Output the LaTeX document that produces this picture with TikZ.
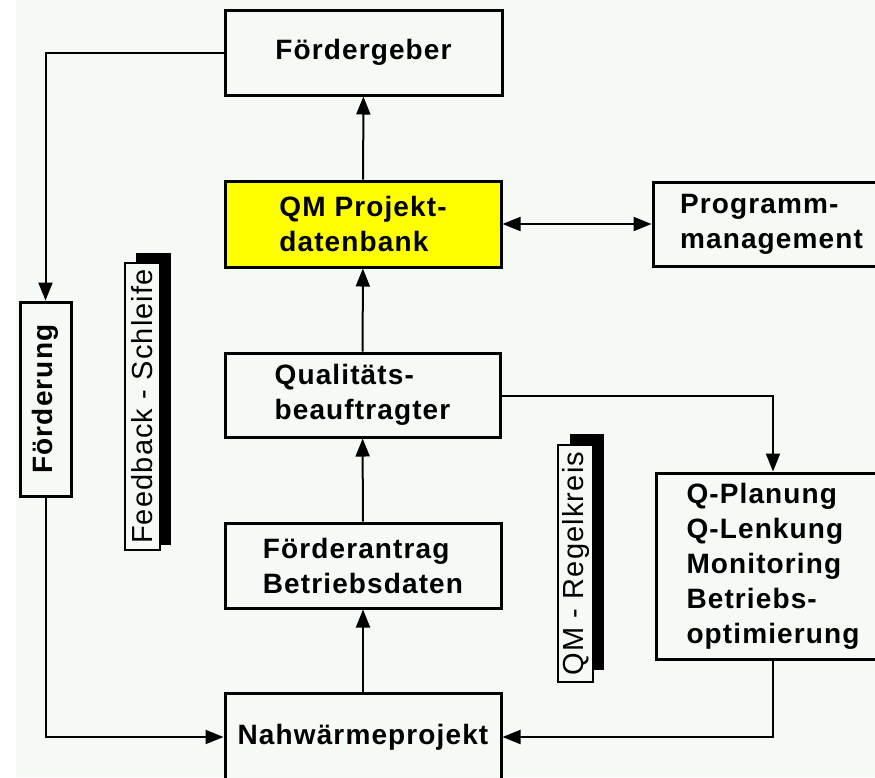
\documentclass[tikz,border=0pt]{standalone}
\usepackage{fontspec}
\setmainfont[LetterSpace=4]{Liberation Sans}
\usetikzlibrary{arrows.meta}
\definecolor{bgtone}{RGB}{246,250,247}
\definecolor{qmyellow}{RGB}{255,255,0}

\tikzset{
  box/.style={draw, line width=3pt, fill=bgtone, align=left,
    font=\fontsize{28}{35}\selectfont\bfseries, inner sep=0pt},
  tag/.style={draw, line width=2pt, fill=bgtone, rotate=90, inner sep=0pt,
    font=\fontsize{29}{35}\selectfont},
  link/.style={line width=2pt},
  arr/.style={link, -{Triangle[length=18pt,width=14pt]}},
  biarr/.style={link, {Triangle[length=18pt,width=14pt]}-{Triangle[length=18pt,width=14pt]}},
}

\begin{document}
\begin{tikzpicture}[x=1pt, y=-1pt]
        \useasboundingbox (0,0) rectangle (875,777);
        \fill[bgtone] (16,0) rectangle (875,777);
        % main column
        \node[box, minimum width=277, minimum height=85] (fg) at (363.5,52.5) {Fördergeber};
        \node[box, minimum width=276, minimum height=86, fill=qmyellow] (qm) at (363,224) {QM Projekt-\\datenbank};
        \node[box, minimum width=275, minimum height=84] (qb) at (362.5,395) {Qualitäts-\\beauftragter};
        \node[box, minimum width=276, minimum height=85] (fa) at (363,565.5) {Förderantrag\\Betriebsdaten};
        \node[box, minimum width=276, minimum height=88] (nw) at (363,737) {Nahwärmeprojekt};
        % right side
        \node[box, minimum width=237, minimum height=84] (pm) at (771.5,224) {Programm-\\management};
        \node[box, minimum width=234, minimum height=186] (qp) at (773,566) {Q-Planung\\Q-Lenkung\\Monitoring\\Betriebs-\\optimierung};
        % left side
        \node[box, rotate=90, minimum width=194, minimum height=51] (fd) at (45.5,399) {Förderung};
        % loop labels with shadow
        \fill (136,253) rectangle (171,545);
        \node[tag, minimum width=287, minimum height=35] (fs) at (142.5,406.5) {Feedback - Schleife};
        \fill (570,434) rectangle (604,670);
        \node[tag, minimum width=237, minimum height=35] (rk) at (575.5,563.5) {QM - Regelkreis};
        % connectors
        \draw[arr] (nw) -- (fa);
        \draw[arr] (fa) -- (qb);
        \draw[arr] (qb) -- (qm);
        \draw[arr] (qm) -- (fg);
        \draw[biarr] (qm) -- (pm);
        \draw[arr] (fg.west) -| (fd.east);
        \draw[arr] (fd.west) |- (nw.west);
        \draw[arr] ([yshift=-1pt]qb.east) -| (qp.north);
        \draw[arr] (qp.south) |- (nw.east);
    \end{tikzpicture}
\end{document}
